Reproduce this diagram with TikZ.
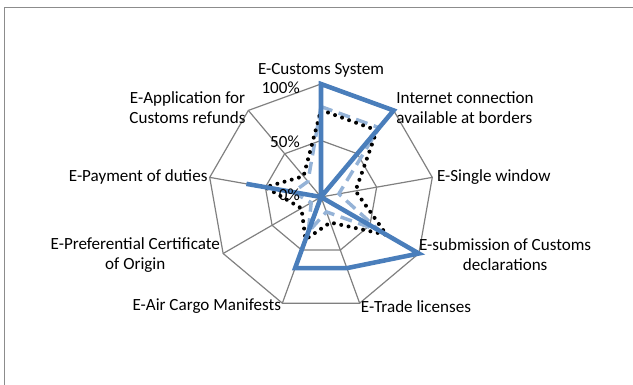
\documentclass[tikz,border=0pt]{standalone}
\usepackage{fontspec}
\setmainfont{Carlito}
\usetikzlibrary{positioning}
\definecolor{lineblue}{HTML}{4A7EBB}
\definecolor{paleblue}{HTML}{95B3D7}
\tikzstyle{frame}=[draw=black!45, line width=0.75pt]
\tikzstyle{web}=[draw=black!50, line width=0.9pt]
\tikzstyle{lbl}=[inner sep=0pt, font=\fontsize{12.8}{15}\selectfont]
\tikzstyle{tick}=[lbl, anchor=east]
\tikzstyle{serA}=[draw=lineblue, line width=3.4pt, line join=miter]
\tikzstyle{serB}=[draw=paleblue, line width=2.6pt, dash pattern=on 9pt off 5pt]
\tikzstyle{serC}=[draw=black, line width=3pt, line cap=round, dash pattern=on 0pt off 5.6pt]

\begin{document}
\begin{tikzpicture}[x=0.75pt, y=0.75pt]
    \useasboundingbox (-321,-188) rectangle (312,197);
    \draw[frame] (-316,-188) -- (-316,189) -- (312,189);

    % axis ends
    \coordinate (o) at (0,0);
    \foreach \i in {0,...,8}{
        \coordinate (v\i) at ({90-40*\i}:113);
        \coordinate (h\i) at ({90-40*\i}:56.5);
    }

    % web
    \draw[web] (v0) \foreach \i in {1,...,8}{ -- (v\i)} -- cycle;
    \draw[web] (h0) \foreach \i in {1,...,8}{ -- (h\i)} -- cycle;
    \foreach \i in {0,...,8}
        \draw[web] (o) -- (v\i);

    % data
    \foreach \v [count=\i from 0] in {.8,.8,.16,.6,.14,.33,.1,.25,.18}
        \coordinate (b\i) at ({90-40*\i}:{113*\v});
    \foreach \v [count=\i from 0] in {.77,.77,.31,.67,.24,.4,.2,.5,.24}
        \coordinate (c\i) at ({90-40*\i}:{113*\v});
    \foreach \v [count=\i from 0] in {1,1,0,1,.67,.67,0,.67,0}
        \coordinate (a\i) at ({90-40*\i}:{113*\v});
    \draw[serB] (b0) \foreach \i in {1,...,8}{ -- (b\i)} -- cycle;
    \draw[serC] (c0) \foreach \i in {1,...,8}{ -- (c\i)} -- cycle;
    \draw[serA] (a0) \foreach \i in {1,...,8}{ -- (a\i)} -- cycle;

    % ticks
    \path (-21,109) node (t100) [tick] {100\%};
    \path (-21,55) node (t50) [tick] {50\%};
    \path (-21,2) node (t0) [tick] {0\%};

    % category labels
    \path (v0)+(0,14) node (customs) [lbl] {E-Customs System};
    \path (v1)+(2.5,2.5) node (internet) [lbl, anchor=west, align=left] {Internet connection\\available at borders};
    \path (v2)+(4.5,0) node (single) [lbl, anchor=west] {E-Single window};
    \path (v3)+(0,-1.5) node (submission) [lbl, anchor=west, align=center] {E-submission of Customs\\declarations};
    \path (v4)+(1,-3) node (trade) [lbl, anchor=west] {E-Trade licenses};
    \path (v5)+(-1,-3) node (aircargo) [lbl, anchor=east] {E-Air Cargo Manifests};
    \path (v6)+(-3,-1.5) node (origin) [lbl, anchor=east, align=center] {E-Preferential Certificate\\of Origin};
    \path (v7)+(-2,0) node (payment) [lbl, anchor=east] {E-Payment of duties};
    \path (v8)+(-2.5,2.5) node (refunds) [lbl, anchor=east, align=center] {E-Application for\\Customs refunds};
\end{tikzpicture}
\end{document}
